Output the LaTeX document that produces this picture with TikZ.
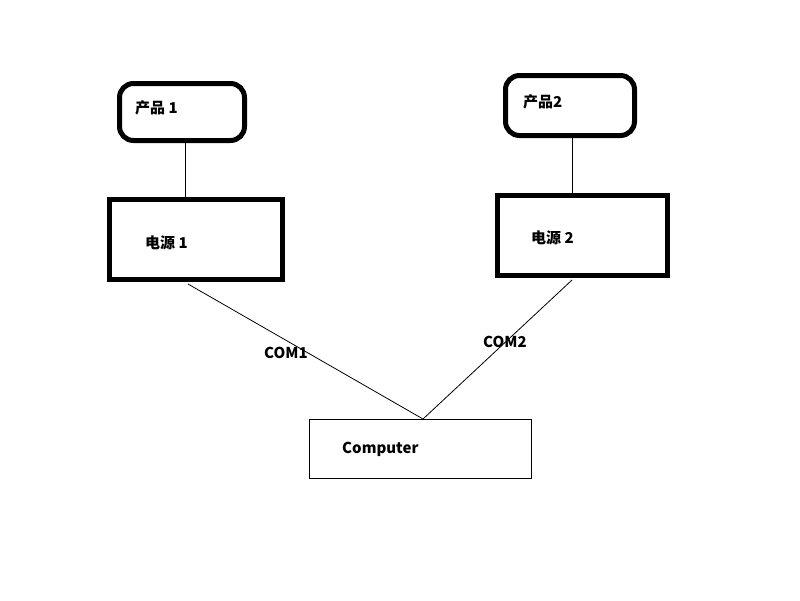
\documentclass[tikz,border=0pt]{standalone}
\usepackage{fontspec}
\setmainfont{Noto Sans CJK SC}
\begin{document}
\begin{tikzpicture}[x=1pt,y=-1pt,
  thickbox/.style={draw=black,line width=5pt,inner sep=0pt},
  rthickbox/.style={thickbox,rounded corners=14pt},
  thinbox/.style={draw=black,line width=0.9pt,inner sep=0pt},
  lbl/.style={anchor=west,inner sep=0pt,font=\fontsize{15}{17}\selectfont\bfseries},
  wire/.style={draw=black,line width=0.8pt}]
\useasboundingbox (0,0) rectangle (800,600);
\node[rthickbox,minimum width=125pt,minimum height=57pt] (p1) at (182,112) {};
\node[rthickbox,minimum width=129pt,minimum height=60pt] (p2) at (570,105.5) {};
\node[thickbox,minimum width=173pt,minimum height=80pt] (s1) at (196,239.5) {};
\node[thickbox,minimum width=170pt,minimum height=80pt] (s2) at (582.5,235.5) {};
\node[thinbox,minimum width=222pt,minimum height=59pt] (pc) at (420,448.5) {};
\node[lbl] (t1) at (135,108) {产品 1};
\node[lbl] (t2) at (523,102) {产品2};
\node[lbl] (t3) at (145,243) {电源 1};
\node[lbl] (t4) at (531,238) {电源 2};
\node[lbl] (t5) at (342,449) {Computer};
\node[lbl] (c1) at (264,353) {COM1};
\node[lbl] (c2) at (483,342) {COM2};
\coordinate (m) at (423,419);
\coordinate (a1) at (188,284);
\coordinate (a2) at (572,280);
\draw[wire] (p1.south -| 185,0) -- (s1.north -| 185,0);
\draw[wire] (p2.south -| 572,0) -- (s2.north -| 572,0);
\draw[wire] (a1) -- (m) -- (a2);
\end{tikzpicture}
\end{document}
